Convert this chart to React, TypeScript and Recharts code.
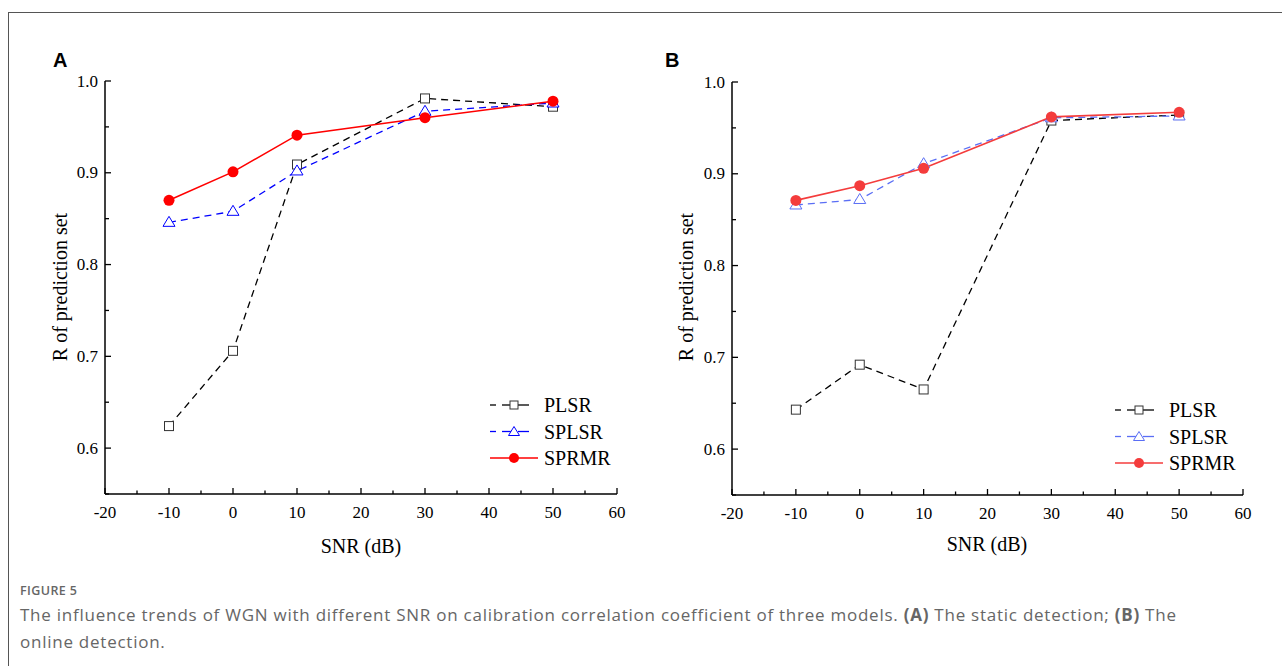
import React from "react";
import { Legend, Line, LineChart, XAxis, YAxis } from "recharts";

// SNR levels (dB) shared by both panels
const SNR = [-10, 0, 10, 30, 50];

// panel A: static detection
const PLSR_A = [0.624, 0.706, 0.909, 0.981, 0.972];
const SPLSR_A = [0.846, 0.858, 0.902, 0.967, 0.976];
const SPRMR_A = [0.87, 0.901, 0.941, 0.96, 0.978];

// panel B: online detection
const PLSR_B = [0.643, 0.692, 0.665, 0.958, 0.964];
const SPLSR_B = [0.866, 0.872, 0.911, 0.961, 0.963];
const SPRMR_B = [0.871, 0.887, 0.906, 0.962, 0.967];

const X_TICKS = [-20, -15, -10, -5, 0, 5, 10, 15, 20, 25, 30, 35, 40, 45, 50, 55, 60];
const Y_TICKS = [0.55, 0.6, 0.65, 0.7, 0.75, 0.8, 0.85, 0.9, 0.95, 1.0];

const SERIES = ["PLSR", "SPLSR", "SPRMR"];

const SERIF = '"Liberation Serif", "Times New Roman", serif';
const SERIF_STYLE = { fontFamily: SERIF };

function buildRows(plsr: number[], splsr: number[], sprmr: number[]) {
  return SNR.map((snr, i) => ({ snr, PLSR: plsr[i], SPLSR: splsr[i], SPRMR: sprmr[i] }));
}

const isMajorY = (v: number) => Math.abs(v * 10 - Math.round(v * 10)) < 1e-6;

function YTick(props: any) {
  const { x, y, payload } = props;
  const v = payload.value as number;
  const major = isMajorY(v);
  return (
    <g>
      <line x1={x} x2={x + (major ? 6 : 4)} y1={y} y2={y} stroke="#000" strokeWidth={1.3} />
      {major && (
        <text x={x - 7} y={y} textAnchor="end" dominantBaseline="central" style={SERIF_STYLE} fontSize={17} fill="#000">
          {v.toFixed(1)}
        </text>
      )}
    </g>
  );
}

function XTick(props: any) {
  const { x, y, payload } = props;
  const v = payload.value as number;
  const major = v % 10 === 0;
  return (
    <g>
      <line x1={x} x2={x} y1={y} y2={y - (major ? 6 : 3.5)} stroke="#000" strokeWidth={1.3} />
      {major && (
        <text x={x} y={y + 18} textAnchor="middle" dominantBaseline="central" style={SERIF_STYLE} fontSize={17} fill="#000">
          {v}
        </text>
      )}
    </g>
  );
}

const squareDot = (color: string) => (p: any) => (
  <rect key={`s${p.index}`} x={p.cx - 4.5} y={p.cy - 4.5} width={9} height={9} fill="#fff" stroke={color} strokeWidth={1} />
);

const triangleDot = (color: string) => (p: any) => (
  <polygon
    key={`t${p.index}`}
    points={`${p.cx},${p.cy - 6} ${p.cx - 6},${p.cy + 4} ${p.cx + 6},${p.cy + 4}`}
    fill="#fff"
    stroke={color}
    strokeWidth={1}
  />
);

const circleDot = (color: string) => (p: any) => (
  <circle key={`c${p.index}`} cx={p.cx} cy={p.cy} r={5.5} fill={color} stroke="none" />
);

interface Palette {
  plsr: string;
  splsr: string;
  sprmr: string;
}

function LegendBox({ pal }: { pal: Palette }) {
  const rows = [
    { name: SERIES[0], color: pal.plsr, mark: "square" },
    { name: SERIES[1], color: pal.splsr, mark: "triangle" },
    { name: SERIES[2], color: pal.sprmr, mark: "circle" },
  ];
  return (
    <svg width={170} height={80}>
      {rows.map((r, i) => {
        const cy = 13 + i * 26.5;
        return (
          <g key={r.name}>
            {r.mark === "circle" ? (
              <line x1={2} x2={50} y1={cy} y2={cy} stroke={r.color} strokeWidth={1.6} />
            ) : (
              <>
                <line x1={2} x2={8} y1={cy} y2={cy} stroke={r.color} strokeWidth={1.3} />
                <line x1={14} x2={24} y1={cy} y2={cy} stroke={r.color} strokeWidth={1.3} />
                <line x1={30} x2={41} y1={cy} y2={cy} stroke={r.color} strokeWidth={1.3} />
              </>
            )}
            {r.mark === "square" && <rect x={22} y={cy - 4} width={8} height={8} fill="#fff" stroke="#333" />}
            {r.mark === "triangle" && (
              <polygon points={`26,${cy - 5} 20.5,${cy + 4} 31.5,${cy + 4}`} fill="#fff" stroke={r.color} />
            )}
            {r.mark === "circle" && <circle cx={26} cy={cy} r={5} fill={r.color} />}
            <text x={56} y={cy} dominantBaseline="central" style={SERIF_STYLE} fontSize={20} fill="#000">
              {r.name}
            </text>
          </g>
        );
      })}
    </svg>
  );
}

interface PanelProps {
  rows: any[];
  pal: Palette;
  left: number;
  width: number;
  marginTop: number;
  marginRight: number;
  yAxisWidth: number;
  xAxisHeight: number;
  legendLeft: number;
  legendTop: number;
}

function Panel(p: PanelProps) {
  return (
    <div style={{ position: "absolute", left: p.left, top: 30 }}>
      <LineChart
        width={p.width}
        height={550}
        data={p.rows}
        margin={{ top: p.marginTop, right: p.marginRight, bottom: 0, left: 0 }}
      >
        <XAxis
          dataKey="snr"
          type="number"
          domain={[-20, 60]}
          ticks={X_TICKS}
          interval={0}
          height={p.xAxisHeight}
          tickSize={0}
          tickMargin={0}
          tickLine={false}
          tick={<XTick />}
          axisLine={{ stroke: "#000", strokeWidth: 1.5 }}
        />
        <YAxis
          type="number"
          domain={[0.55, 1.0]}
          ticks={Y_TICKS}
          interval={0}
          width={p.yAxisWidth}
          tickSize={0}
          tickMargin={0}
          tickLine={false}
          tick={<YTick />}
          axisLine={{ stroke: "#000", strokeWidth: 1.5 }}
        />
        <Legend
          layout="vertical"
          align="center"
          verticalAlign="middle"
          wrapperStyle={{ left: p.legendLeft, top: p.legendTop, width: 170 }}
          content={() => <LegendBox pal={p.pal} />}
        />
        <Line
          dataKey="PLSR"
          stroke={p.pal.plsr}
          strokeWidth={1.3}
          strokeDasharray="7 5"
          dot={squareDot("#333")}
          isAnimationActive={false}
        />
        <Line
          dataKey="SPLSR"
          stroke={p.pal.splsr}
          strokeWidth={1.3}
          strokeDasharray="7 5"
          dot={triangleDot(p.pal.splsr)}
          isAnimationActive={false}
        />
        <Line
          dataKey="SPRMR"
          stroke={p.pal.sprmr}
          strokeWidth={1.6}
          dot={circleDot(p.pal.sprmr)}
          isAnimationActive={false}
        />
      </LineChart>
    </div>
  );
}

export default function App() {
  const rowsA = buildRows(PLSR_A, SPLSR_A, SPRMR_A);
  const rowsB = buildRows(PLSR_B, SPLSR_B, SPRMR_B);
  return (
    <div style={{ position: "relative", width: 1282, height: 666, background: "#fff", overflow: "hidden" }}>
      <style>{"body{margin:0}"}</style>
      <div
        style={{
          position: "absolute",
          left: 8,
          top: 12,
          width: 1300,
          height: 700,
          borderTop: "1.5px solid #555",
          borderLeft: "1.5px solid #555",
        }}
      />
      <Panel
        rows={rowsA}
        pal={{ plsr: "#000", splsr: "#0000ff", sprmr: "#ff0000" }}
        left={0}
        width={640}
        marginTop={51}
        marginRight={23}
        yAxisWidth={105}
        xAxisHeight={86}
        legendLeft={488}
        legendTop={362}
      />
      <Panel
        rows={rowsB}
        pal={{ plsr: "#000", splsr: "#5a6ef5", sprmr: "#f43c3c" }}
        left={640}
        width={640}
        marginTop={52}
        marginRight={37}
        yAxisWidth={92}
        xAxisHeight={85}
        legendLeft={473}
        legendTop={367}
      />
      <svg width={1282} height={580} style={{ position: "absolute", left: 0, top: 0, pointerEvents: "none" }}>
        <text x={53} y={67} fontFamily='"Liberation Sans", Arial, sans-serif' fontWeight="bold" fontSize={20}>
          A
        </text>
        <text x={665} y={67} fontFamily='"Liberation Sans", Arial, sans-serif' fontWeight="bold" fontSize={20}>
          B
        </text>
        <text transform="translate(60,287) rotate(-90)" textAnchor="middle" dominantBaseline="central" style={SERIF_STYLE} fontSize={20}>
          R of prediction set
        </text>
        <text transform="translate(686,287) rotate(-90)" textAnchor="middle" dominantBaseline="central" style={SERIF_STYLE} fontSize={20}>
          R of prediction set
        </text>
        <text x={361} y={553} textAnchor="middle" style={SERIF_STYLE} fontSize={20}>
          SNR (dB)
        </text>
        <text x={987} y={551} textAnchor="middle" style={SERIF_STYLE} fontSize={20}>
          SNR (dB)
        </text>
      </svg>
      <div
        style={{
          position: "absolute",
          left: 20,
          top: 583,
          fontFamily: '"Open Sans", sans-serif',
          fontSize: 12.5,
          fontWeight: 600,
          letterSpacing: 0.4,
          color: "#666",
          lineHeight: "16px",
        }}
      >
        FIGURE 5
      </div>
      <div
        style={{
          position: "absolute",
          left: 20,
          top: 601,
          width: 1250,
          fontFamily: '"Open Sans", sans-serif',
          fontSize: 17,
          letterSpacing: 0.75,
          color: "#666",
          lineHeight: "27px",
        }}
      >
        The influence trends of WGN with different SNR on calibration correlation coefficient of three models.{" "}
        <b>(A)</b> The static detection; <b>(B)</b> The
        <br />
        online detection.
      </div>
    </div>
  );
}
